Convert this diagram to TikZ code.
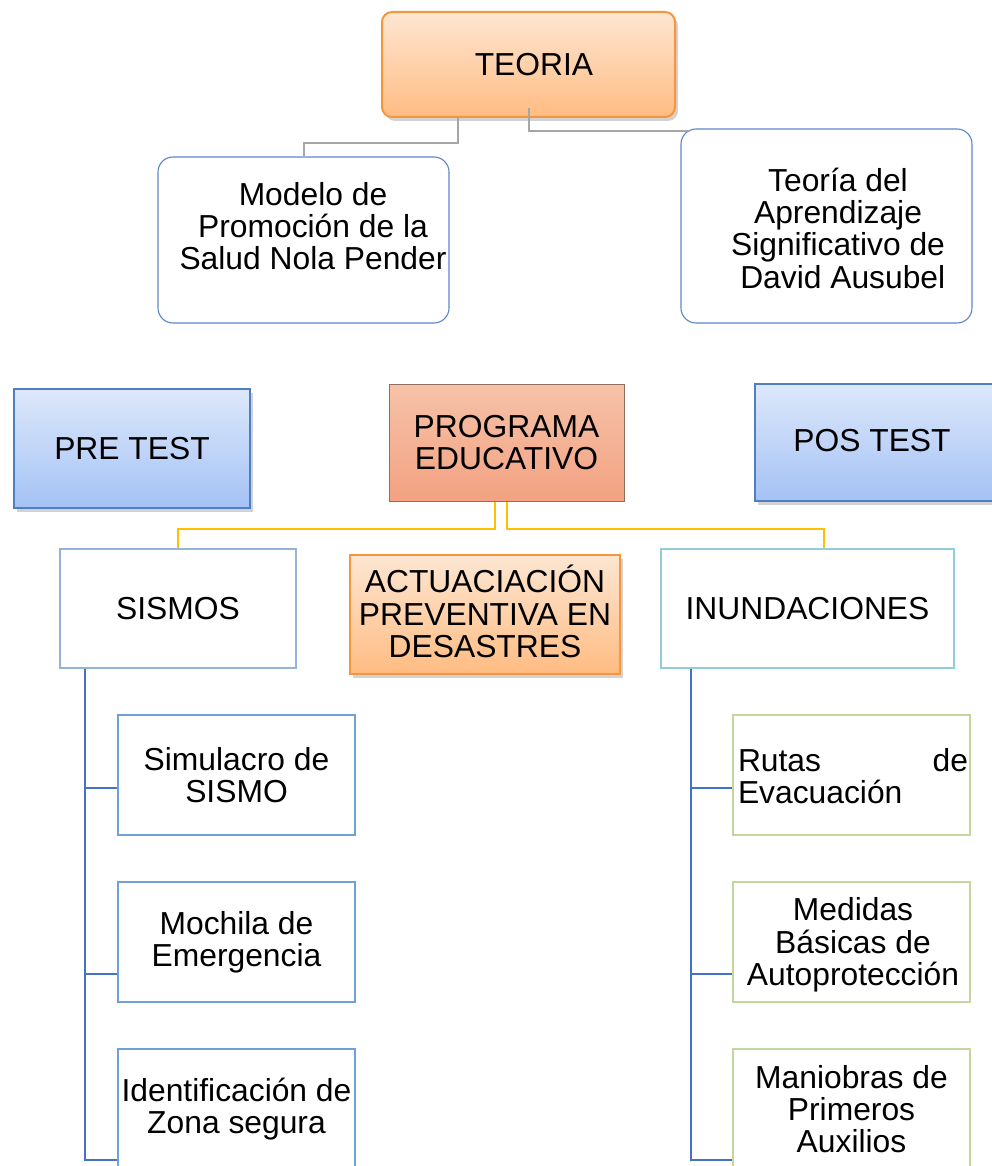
\documentclass[tikz,border=0pt]{standalone}
\usepackage{fontspec}
\setmainfont{Liberation Sans}
\usetikzlibrary{shadows}
\definecolor{orTop}{HTML}{FDE6D2}
\definecolor{orBot}{HTML}{FFBC82}
\definecolor{orLine}{HTML}{F7953F}
\definecolor{blTop}{HTML}{DDE8FB}
\definecolor{blBot}{HTML}{A4C2F5}
\definecolor{blLine}{HTML}{4F7EC2}
\definecolor{prTop}{HTML}{F6C2A8}
\definecolor{prBot}{HTML}{F3A282}
\definecolor{prLine}{HTML}{8E6E60}
\definecolor{rndLine}{HTML}{5B86C8}
\definecolor{sisLine}{HTML}{95B3D7}
\definecolor{inLine}{HTML}{92CDDC}
\definecolor{lcLine}{HTML}{6FA0D8}
\definecolor{rcLine}{HTML}{C3D69B}
\definecolor{grayConn}{HTML}{A6A6A6}
\definecolor{yelConn}{HTML}{FFC000}
\definecolor{bluConn}{HTML}{4472C4}
\newcommand{\fsz}{\fontsize{31.8pt}{32.3pt}\selectfont}
\tikzset{
  base/.style={inner sep=0pt, align=center, font=\fsz},
  shd/.style={drop shadow={shadow xshift=3pt, shadow yshift=-4pt, opacity=0.25, fill=black!70}},
  orbox/.style={base, shd, draw=orLine, line width=2pt, top color=orTop, bottom color=orBot},
  blbox/.style={base, shd, draw=blLine, line width=2pt, top color=blTop, bottom color=blBot},
  prbox/.style={base, draw=prLine, line width=1pt, top color=prTop, bottom color=prBot},
  rndbox/.style={base, draw=rndLine, line width=1.1pt, fill=white, rounded corners=15pt},
  sisbox/.style={base, draw=sisLine, line width=1.3pt, fill=white},
  inbox/.style={base, draw=inLine, line width=1.3pt, fill=white},
  lcbox/.style={base, draw=lcLine, line width=2.5pt, fill=white, minimum width=237pt, minimum height=120pt},
  rcbox/.style={base, draw=rcLine, line width=1.3pt, fill=white, minimum width=237pt, minimum height=120pt},
  txt/.style={base},
  gline/.style={draw=grayConn, line width=2pt},
  yline/.style={draw=yelConn, line width=2pt},
  bline/.style={draw=bluConn, line width=2pt},
}
\begin{document}
\begin{tikzpicture}[x=1pt,y=-1pt]
\useasboundingbox (0,0) rectangle (991,1166);
% top level
\node[orbox, rounded corners=10pt, minimum width=293pt, minimum height=105pt] (teoria) at (528.5,64.5) {};
\node[txt] (teoriaT) at (534,65) {TEORIA};
\node[rndbox, minimum width=291pt, minimum height=166pt] (modelo) at (303.5,240) {};
\node[txt] (modeloT) at (313,226) {Modelo de\\Promoción de la\\Salud Nola Pender};
\node[rndbox, minimum width=291pt, minimum height=194pt] (ausubel) at (826.5,226) {};
\node[txt] (ausubelT) at (838,228) {Teoría del\\Aprendizaje\\Significativo de\\\hspace{0.3em}David Ausubel};
% middle row
\node[blbox, minimum width=236pt, minimum height=119pt] (pre) at (132,448.5) {PRE TEST};
\node[prbox, minimum width=235pt, minimum height=117pt] (prog) at (506.5,442.5) {PROGRAMA\\EDUCATIVO};
\node[blbox, minimum width=240pt, minimum height=117pt] (pos) at (875,442.5) {};
\node[txt] (posT) at (872,441) {POS TEST};
% third row
\node[sisbox, minimum width=236pt, minimum height=119pt] (sismos) at (178,608.5) {SISMOS};
\node[orbox, minimum width=270pt, minimum height=119pt] (actua) at (485,614.5) {};
\node[txt] (actuaT) at (485,611.5) {ACTUACIACIÓN\\PREVENTIVA EN\\DESASTRES};
\node[inbox, minimum width=293pt, minimum height=119pt] (inund) at (807.5,608.5) {INUNDACIONES};
% left children
\node[lcbox] (c1) at (236.5,775) {Simulacro de\\SISMO};
\node[lcbox] (c2) at (236.5,942) {Mochila de\\Emergencia};
\node[lcbox] (c3) at (236.5,1109) {Identificación de\\Zona segura};
% right children
\node[rcbox] (d1) at (851.5,775) {};
\node[txt, align=left] (d1T) at (853,776) {\hbox to 230pt{Rutas\hfill de}\\Evacuación};
\node[rcbox] (d2) at (851.5,942) {};
\node[txt] (d2T) at (853,945) {Medidas\\Básicas de\\Autoprotección};
\node[rcbox] (d3) at (851.5,1109) {Maniobras de\\Primeros\\Auxilios};
% gray connectors
\draw[gline] ([xshift=-70.5pt]teoria.south) -- ++(0,25) -| (modelo.north);
\draw[gline] ([yshift=10pt]teoria.south) |- ([xshift=10pt,yshift=-3pt]ausubel.north west);
% yellow connectors
\draw[yline] ([xshift=-11.5pt]prog.south) -- ++(0,27) -| (sismos.north);
\draw[yline] ([xshift=0.5pt]prog.south) -- ++(0,27) -| ([xshift=16.5pt]inund.north);
% blue tree, left
\draw[bline] ([xshift=-93pt]sismos.south) |- ([yshift=-13pt]c1.west);
\draw[bline] ([xshift=-93pt]sismos.south) |- ([yshift=-32pt]c2.west);
\draw[bline] ([xshift=-93pt]sismos.south) |- ([yshift=-51pt]c3.west);
% blue tree, right
\draw[bline] ([xshift=-116.5pt]inund.south) |- ([yshift=-13pt]d1.west);
\draw[bline] ([xshift=-116.5pt]inund.south) |- ([yshift=-32pt]d2.west);
\draw[bline] ([xshift=-116.5pt]inund.south) |- ([yshift=-51pt]d3.west);
\end{tikzpicture}
\end{document}
